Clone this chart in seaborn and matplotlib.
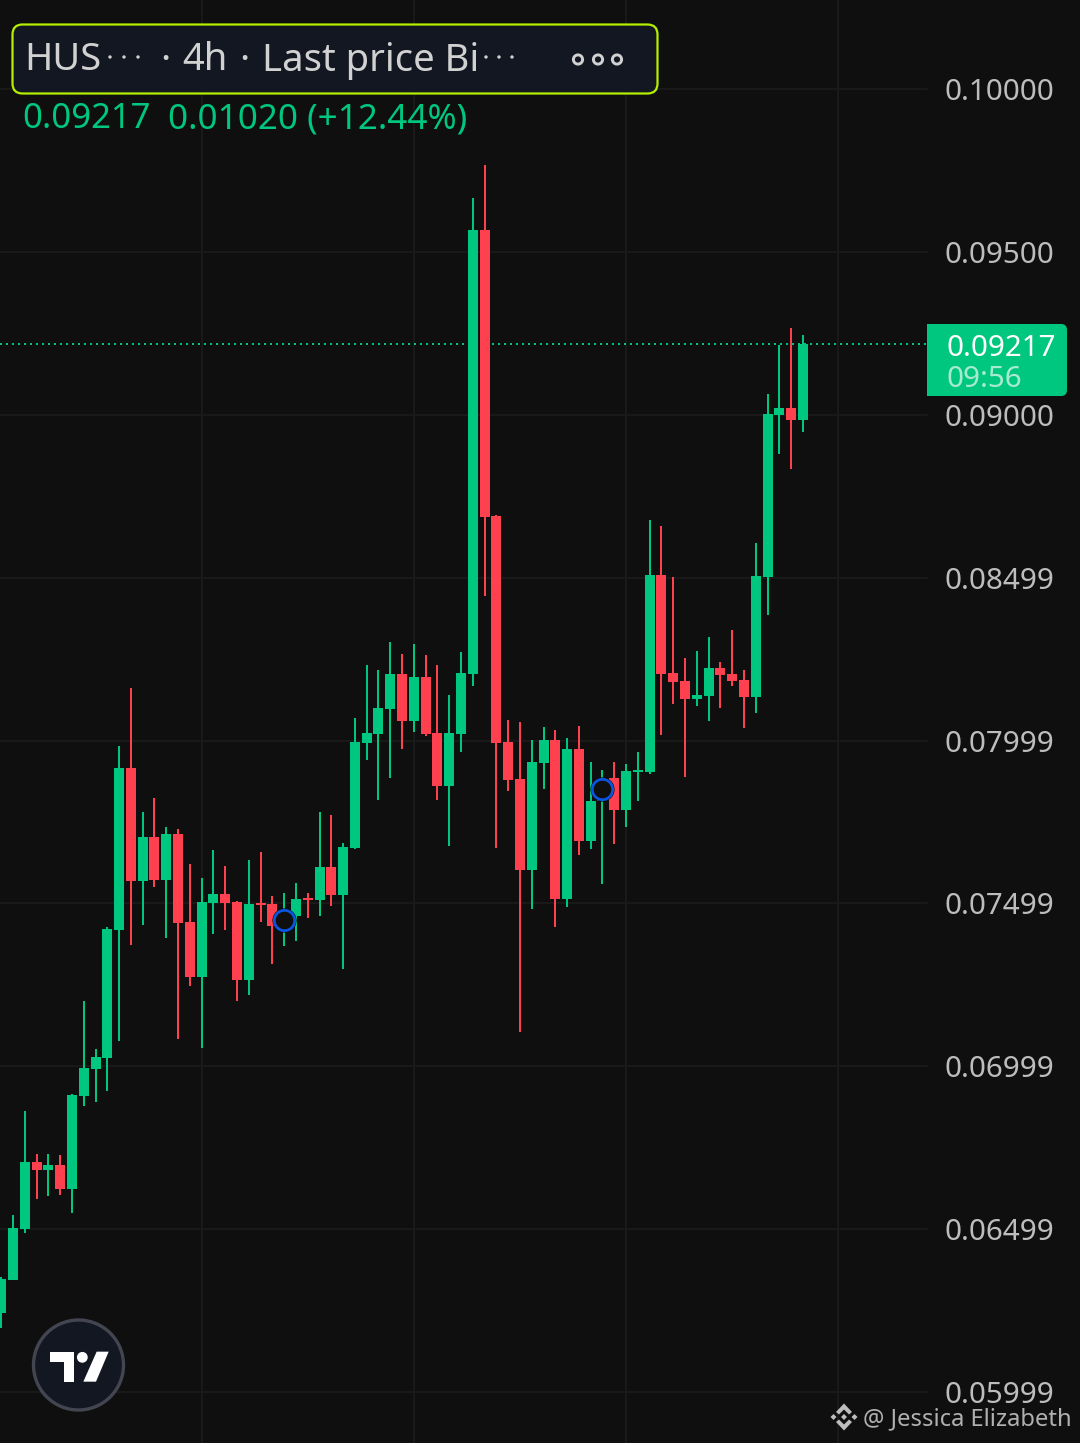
import matplotlib
matplotlib.use("Agg")
import matplotlib.pyplot as plt
from matplotlib.patches import Circle, FancyBboxPatch, Polygon, Rectangle
import numpy as np
import pandas as pd
import seaborn as sns

highs = [.06353,.06543,.06863,.06731,.06731,.06728,.06915,.07200,.07053,.07428,
         .07984,.08162,.07781,.07824,.07735,.07729,.07621,.07578,.07664,.07615,
         .07508,.07633,.07658,.07523,.07532,.07563,.07532,.07781,.07772,.07686,
         .08069,.08232,.08217,.08303,.08266,.08297,.08263,.08232,.08140,.08272,
         .09666,.09768,.08693,.08063,.08057,.08002,.08042,.08033,.08008,.08045,
         .07934,.07910,.07934,.07928,.07965,.08677,.08659,.08502,.08254,.08275,
         .08318,.08241,.08340,.08217,.08607,.09064,.09215,.09267,.09246]
lows = [.06196,.06344,.06488,.06592,.06602,.06605,.06549,.06878,.06890,.06924,
        .07078,.07372,.07434,.07551,.07394,.07084,.07247,.07056,.07406,.07418,
        .07200,.07219,.07443,.07314,.07369,.07385,.07455,.07461,.07492,.07299,
        .07667,.07941,.07818,.07885,.07974,.08026,.08014,.07818,.07676,.07965,
        .08168,.08444,.07670,.07845,.07105,.07483,.07851,.07428,.07489,.07649,
        .07667,.07560,.07683,.07735,.07815,.07898,.08017,.08112,.07888,.08106,
        .08060,.08100,.08168,.08039,.08085,.08386,.08880,.08834,.08948]
opens = [.06242,.06344,.06500,.06706,.06682,.06697,.06623,.06909,.06992,.07025,
         .07418,.07916,.07569,.07704,.07572,.07713,.07443,.07274,.07501,.07529,
         .07504,.07265,.07501,.07498,.07443,.07461,.07517,.07511,.07612,.07526,
         .07670,.07993,.08020,.08097,.08205,.08060,.08195,.08023,.07861,.08020,
         .08205,.09568,.08690,.07996,.07882,.07603,.07931,.08002,.07514,.07974,
         .07692,.07815,.07885,.07787,.07904,.07904,.08509,.08208,.08183,.08128,
         .08137,.08223,.08205,.08186,.08134,.08502,.09000,.09021,.08985]
closes = [.06347,.06503,.06706,.06682,.06697,.06623,.06912,.06995,.07029,.07422,
          .07916,.07569,.07704,.07572,.07713,.07440,.07274,.07504,.07529,.07501,
          .07265,.07498,.07495,.07431,.07461,.07514,.07511,.07612,.07526,.07673,
          .07996,.08023,.08100,.08205,.08060,.08195,.08020,.07861,.08023,.08208,
          .09568,.08687,.07993,.07879,.07603,.07934,.08002,.07514,.07974,.07692,
          .07815,.07848,.07787,.07907,.07910,.08509,.08205,.08180,.08128,.08140,
          .08223,.08202,.08183,.08134,.08506,.09003,.09021,.08985,.09218]
tick_values = [.10000,.09500,.09000,.08500,.08000,.07500,.07000,.06500,.06000]
tick_labels = ["0.10000","0.09500","0.09000","0.08499","0.07999","0.07499","0.06999","0.06499","0.05999"]
time_grid = [17, 35, 53, 71]
event_candles = [24, 51]
event_prices = [.07449, .07851]
last_price = .09217

BG, GREEN, RED = "#0F0F0F", "#00C77F", "#FF404F"
GRID, PANEL, TXT = "#191919", "#131722", "#BDBDBD"

sns.set_theme(style="dark", rc={"figure.facecolor": BG, "axes.facecolor": BG})
plt.rcParams["font.family"] = ["Noto Sans", "DejaVu Sans"]

fig = plt.figure(figsize=(10.8, 14.43), dpi=100)
ax = fig.add_axes([0, 0, 1, 1])

n = len(opens)
idx = np.arange(n)
direction = np.where(np.array(closes) >= np.array(opens), "up", "down")
pal = {"up": GREEN, "down": RED}
wicks = pd.DataFrame({"candle": np.r_[idx, idx], "price": highs + lows, "dir": np.r_[direction, direction]})
bodies = pd.DataFrame({"candle": np.r_[idx, idx], "price": opens + closes, "dir": np.r_[direction, direction]})

for y in tick_values:
    ax.axhline(y, xmax=927 / 1080, color=GRID, lw=1.44, zorder=0)
ax.axhline(last_price, xmax=927 / 1080, color=GREEN, lw=1.44, ls=(0, (1, 2)), zorder=3)

sns.lineplot(data=wicks, x="candle", y="price", hue="dir", units="candle", estimator=None,
             palette=pal, linewidth=1.44, legend=False, solid_capstyle="butt", sort=False, ax=ax, zorder=4)
sns.lineplot(data=bodies, x="candle", y="price", hue="dir", units="candle", estimator=None,
             palette=pal, linewidth=7.2, legend=False, solid_capstyle="butt", sort=False, ax=ax, zorder=5)
sns.scatterplot(x=event_candles, y=event_prices, s=300, color="#000000", linewidth=0, ax=ax, zorder=6, legend=False)
sns.scatterplot(x=event_candles, y=event_prices, s=215, facecolor=BG, edgecolor="#0A55E0", linewidth=2, ax=ax, zorder=7, legend=False)

ax.set_xlim(-1.2 / 11.79, (1080 - 1.2) / 11.79)
ax.set_ylim(.058432, .102742)
ax.set_xticks(time_grid)
ax.set_xticklabels([])
ax.set_yticks(tick_values, tick_labels)
ax.grid(axis="x", color=GRID, lw=1.44, zorder=0)
ax.grid(axis="y", visible=False)
ax.set_axisbelow(True)
ax.set_xlabel("")
ax.set_ylabel("")
ax.tick_params(axis="x", length=0)
ax.tick_params(axis="y", length=0, labelleft=False, labelright=True, pad=-97.2, labelsize=21.3, labelcolor=TXT)
for s in ax.spines.values():
    s.set_visible(False)

# Screen furniture, placed in pixel coordinates on a transparent overlay.
ov = fig.add_axes([0, 0, 1, 1], zorder=10)
ov.set_xlim(0, 1080)
ov.set_ylim(1443, 0)
ov.axis("off")
ov.patch.set_alpha(0)

ov.add_patch(FancyBboxPatch((12.5, 24.5), 645, 69, boxstyle="round,pad=0,rounding_size=10",
                            fc=PANEL, ec="#B4EE00", lw=1.6))
for x, s in [(24, "HUS"), (160, "·"), (182, "4h"), (239, "·"), (262, "Last price Bi")]:
    ov.text(x, 70.5, s, fontsize=27.5, color="#D1D1D1", va="baseline", ha="left")
for x in (110, 124, 138, 486, 499, 512):
    ov.add_patch(Circle((x, 57), 1.7, fc="#D1D1D1", ec="none"))
for x in (578, 598, 617):
    ov.add_patch(Circle((x, 59.5), 4.6, fc="none", ec="#D1D1D1", lw=2.1))
ov.text(22, 128, "0.09217", fontsize=25, color=GREEN, va="baseline")
ov.text(168, 128, "0.01020 (+12.44%)", fontsize=25.2, color=GREEN, va="baseline")

ov.add_patch(FancyBboxPatch((927, 324), 140, 72, boxstyle="round,pad=0,rounding_size=6", fc=GREEN, ec="none"))
ov.add_patch(Rectangle((927, 324), 12, 72, fc=GREEN, ec="none"))
ov.text(946, 355.5, "0.09217", fontsize=21.3, color="#FFFFFF", va="baseline")
ov.text(946, 387, "09:56", fontsize=21.3, color="#A6EBD0", va="baseline")

ov.add_patch(Circle((78.5, 1365), 45, fc=PANEL, ec="#434651", lw=2.4))
to_px = lambda pts: [(x / 3, 1300 + y / 3) for x, y in pts]
ov.add_patch(Polygon(to_px([(150, 155), (222, 155), (222, 245), (192, 245), (192, 187), (150, 187)]), fc="white", ec="none"))
ov.add_patch(Polygon(to_px([(290, 155), (326, 155), (288, 245), (250, 245)]), fc="white", ec="none"))
ov.add_patch(Circle((247 / 3, 1300 + 172 / 3), 5.4, fc="white", ec="none"))

ic, cx, cy = "#BDBDBD", 844, 1417
def diamond(x0, y0, r):
    ov.add_patch(Polygon([(x0 - r, y0), (x0, y0 - r), (x0 + r, y0), (x0, y0 + r)], fc=ic, ec="none"))
diamond(cx - 10.5, cy, 3)
diamond(cx + 10.5, cy, 3)
diamond(cx, cy, 3)
ov.add_patch(Polygon([(cx - 8, cy - 5), (cx, cy - 13.5), (cx + 8, cy - 5), (cx + 5, cy - 2.5), (cx, cy - 7.5), (cx - 5, cy - 2.5)], fc=ic, ec="none"))
ov.add_patch(Polygon([(cx - 8, cy + 5), (cx, cy + 13.5), (cx + 8, cy + 5), (cx + 5, cy + 2.5), (cx, cy + 7.5), (cx - 5, cy + 2.5)], fc=ic, ec="none"))
ov.text(863, 1425, "@ Jessica Elizabeth", fontsize=17.1, color="#B0B0B0", va="baseline")

fig.savefig("out.png", dpi=100, facecolor=BG)
